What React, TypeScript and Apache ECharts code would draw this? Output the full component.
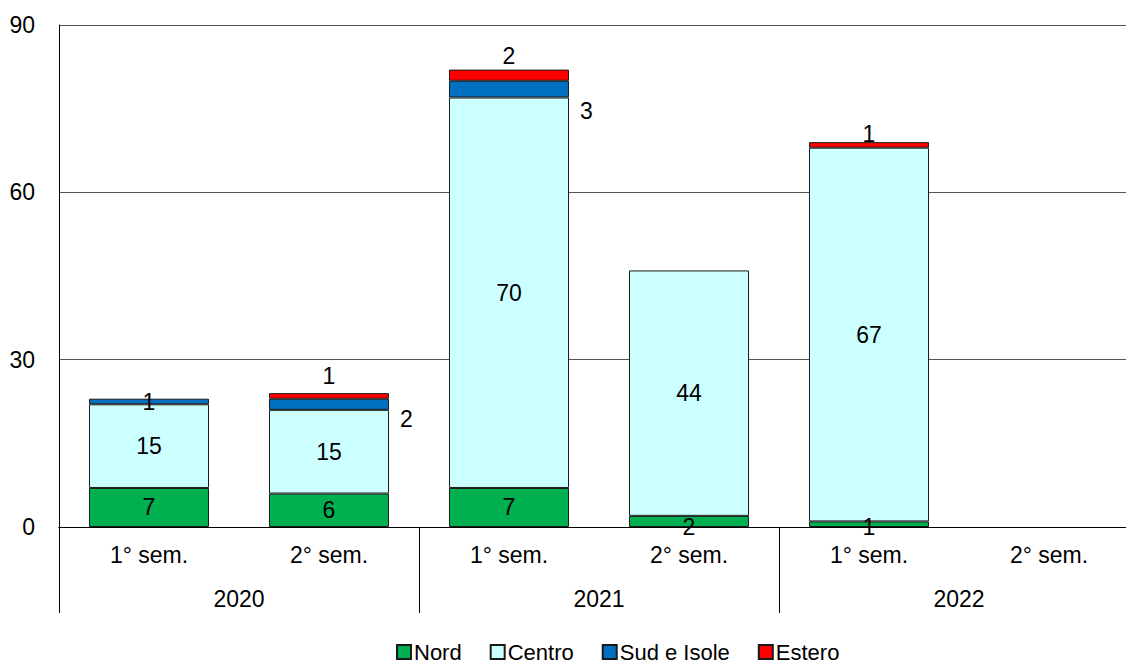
import React, { useEffect, useRef } from "react";
import * as echarts from "echarts";

const categories = ["1° sem.", "2° sem.", "1° sem.", "2° sem.", "1° sem.", "2° sem."];
const years = ["2020", "2021", "2022"];
const seriesNames = ["Nord", "Centro", "Sud e Isole", "Estero"];
const nord = [7, 6, 7, 2, 1, 0];
const centro = [15, 15, 70, 44, 67, 0];
const sud = [1, 2, 3, 0, 0, 0];
const estero = [0, 1, 2, 0, 1, 0];
const yTicks = [0, 30, 60, 90];

const FONT = "'Liberation Sans', Arial, sans-serif";
const FS = 23;
const colors = ["#00B050", "#CCFFFF", "#0070C0", "#FF0000"];

// per-series, per-bar label placement tweaks
const labelPlacement: any[][] = [
  [{}, {}, {}, { offset: [0, 6] }, { offset: [0, 3] }, {}],
  [{}, {}, {}, {}, {}, {}],
  [{}, { position: "right", offset: [6, 15] }, { position: "right", offset: [6, 22] }, {}, {}, {}],
  [{}, { position: "top", offset: [0, -1] }, { position: "top", offset: [0, 3] }, {}, { position: "top", offset: [0, 8] }, {}],
];

export default function App() {
  const ref = useRef<HTMLDivElement>(null);
  useEffect(() => {
    if (!ref.current) return;
    const chart = echarts.init(ref.current, undefined, { renderer: "svg" });
    const all = [nord, centro, sud, estero];
    const series = all.map((vals, si) => ({
      name: seriesNames[si],
      type: "bar",
      stack: "tot",
      xAxisIndex: 0,
      barWidth: "66.7%",
      itemStyle: { color: colors[si], borderColor: "#1a1a1a", borderWidth: 1 },
      label: {
        show: true,
        position: "inside",
        color: "#000",
        fontSize: FS,
        fontFamily: FONT,
      },
      data: vals.map((v, i) =>
        v === 0 ? "-" : { value: v, label: { ...labelPlacement[si][i] } }
      ),
    }));
    chart.setOption({
      animation: false,
      textStyle: { fontFamily: FONT },
      grid: { left: 59, top: 25, width: 1080, height: 502, containLabel: false },
      legend: {
        data: seriesNames,
        left: 396,
        top: 641,
        padding: 0,
        icon: "rect",
        itemWidth: 14,
        itemHeight: 14,
        itemGap: 28,
        textStyle: { fontSize: 22, color: "#000", fontFamily: FONT, padding: [0, 0, 0, -2] },
      },
      xAxis: [
        {
          type: "category",
          data: categories,
          position: "bottom",
          axisLine: { show: true, lineStyle: { color: "#000", width: 1 } },
          axisTick: { show: false },
          axisLabel: { color: "#000", fontSize: FS, fontFamily: FONT, margin: 16, interval: 0 },
        },
        {
          type: "category",
          data: years,
          position: "bottom",
          axisLine: { show: true, lineStyle: { color: "#000", width: 1 } },
          axisTick: { show: true, length: 86, lineStyle: { color: "#000" } },
          axisLabel: { color: "#000", fontSize: FS, fontFamily: FONT, margin: 60, interval: 0 },
        },
      ],
      yAxis: {
        type: "value",
        min: yTicks[0],
        max: yTicks[yTicks.length - 1],
        interval: 30,
        axisLine: { show: true, lineStyle: { color: "#000", width: 1 } },
        axisTick: { show: false },
        axisLabel: { color: "#000", fontSize: FS, fontFamily: FONT, margin: 24 },
        splitLine: { show: true, lineStyle: { color: "#555", width: 1 } },
      },
      series,
    });
    return () => chart.dispose();
  }, []);
  return (
    <div
      style={{ position: "fixed", left: 0, top: 0, width: 1126, height: 663, overflow: "hidden", background: "#fff" }}
    >
      <div ref={ref} style={{ width: 1160, height: 663 }} />
    </div>
  );
}
